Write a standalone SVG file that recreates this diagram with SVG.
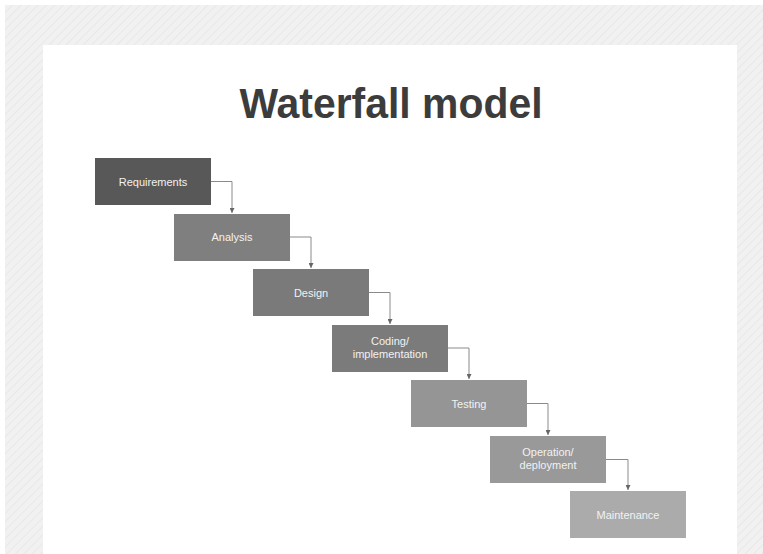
<svg xmlns="http://www.w3.org/2000/svg" width="763" height="554" viewBox="0 0 763 554">
<defs>
<pattern id="hatch" width="6" height="6" patternUnits="userSpaceOnUse" patternTransform="rotate(45)">
<rect width="6" height="6" fill="#f1f1f1"/>
<line x1="0" y1="0" x2="0" y2="6" stroke="#e8e8e8" stroke-width="2"/>
</pattern>
<marker id="arr" viewBox="0 0 10 10" refX="10" refY="5" markerWidth="5" markerHeight="5" orient="auto" markerUnits="userSpaceOnUse">
<path d="M0,0 L10,5 L0,10 z" fill="#666"/>
</marker>
<style>
.box text{font-family:"Liberation Sans","Open Sans",sans-serif;font-size:11px;fill:#f2f2f2;text-anchor:middle}
.conn path{fill:none;stroke:#8a8a8a;stroke-width:1;marker-end:url(#arr)}
</style>
</defs>
<rect width="763" height="554" fill="#ffffff"/>
<rect x="5" y="5" width="758" height="549" fill="url(#hatch)"/>
<rect x="43" y="45" width="694" height="509" fill="#ffffff"/>
<text x="391" y="118" font-family="Liberation Sans, Arial, sans-serif" font-weight="bold" font-size="42" fill="#3c3c3c" text-anchor="middle" textLength="303" lengthAdjust="spacingAndGlyphs">Waterfall model</text>
<g class="conn">
<path d="M211,181.5 H232 V213"/>
<path d="M290,237 H311 V268"/>
<path d="M369,292.5 H390 V324"/>
<path d="M448,348 H469 V379"/>
<path d="M527,403.5 H548 V435"/>
<path d="M606,459.5 H628 V490"/>
</g>
<g id="requirements" class="box"><rect x="95" y="158" width="116" height="47" fill="#585858"/><text x="153" y="185.5">Requirements</text></g>
<g id="analysis" class="box"><rect x="174" y="214" width="116" height="47" fill="#7f7f7f"/><text x="232" y="241">Analysis</text></g>
<g id="design" class="box"><rect x="253" y="269" width="116" height="47" fill="#7a7a7a"/><text x="311" y="296.5">Design</text></g>
<g id="coding" class="box"><rect x="332" y="325" width="116" height="47" fill="#7b7b7b"/><text x="390" y="345">Coding/</text><text x="390" y="358">implementation</text></g>
<g id="testing" class="box"><rect x="411" y="380" width="116" height="47" fill="#959595"/><text x="469" y="407.5">Testing</text></g>
<g id="operation" class="box"><rect x="490" y="436" width="116" height="47" fill="#999999"/><text x="548" y="456">Operation/</text><text x="548" y="469">deployment</text></g>
<g id="maintenance" class="box"><rect x="570" y="491" width="116" height="47" fill="#ababab"/><text x="628" y="518.5">Maintenance</text></g>
</svg>
